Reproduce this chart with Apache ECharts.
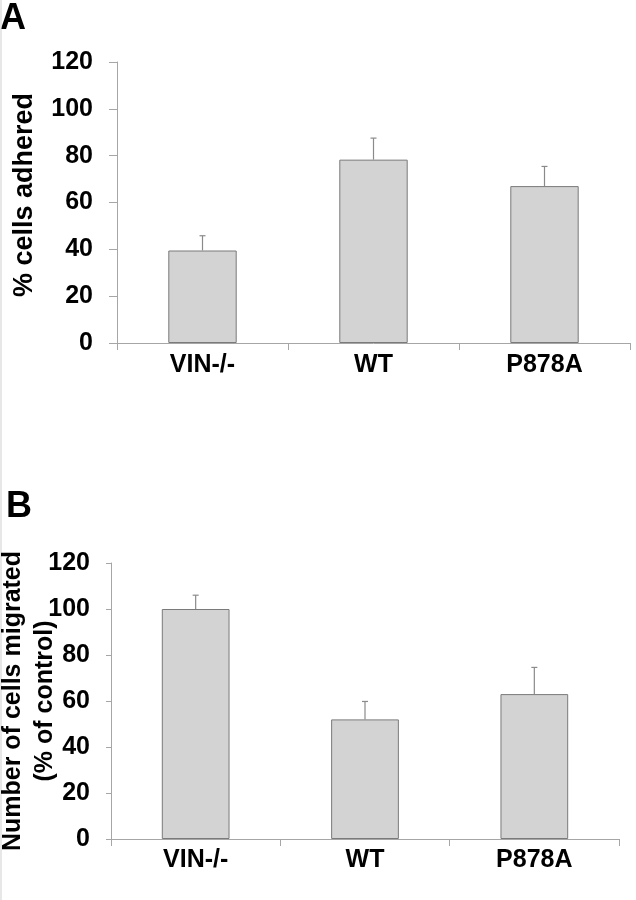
<!DOCTYPE html>
<html>
<head>
<meta charset="utf-8">
<script src="https://cdn.jsdelivr.net/npm/echarts@6/dist/echarts.min.js"></script>
<style>
  html, body { margin: 0; padding: 0; background: #fff; }
  #chart { width: 636px; height: 900px; }
</style>
</head>
<body>
<div id="chart"></div>
<script>
const categories = ['VIN-/-', 'WT', 'P878A'];
const adhesionMean = [39.5, 78.3, 67.0];
const adhesionErr = [6.3, 9.2, 8.4];
const migrationMean = [100.0, 52.0, 63.0];
const migrationErr = [6.0, 7.8, 11.6];
const yTicks = [0, 20, 40, 60, 80, 100, 120];

const FONT = '"Liberation Sans", Arial, Helvetica, sans-serif';
const axisGray = '#a6a6a6';

function errorSeries(xIdx, yIdx, means, errs) {
  return {
    type: 'custom',
    xAxisIndex: xIdx,
    yAxisIndex: yIdx,
    silent: true,
    z: 5,
    data: means.map((m, i) => [i, m, m + errs[i]]),
    renderItem: function (params, api) {
      const base = api.coord([api.value(0), api.value(1)]);
      const top = api.coord([api.value(0), api.value(2)]);
      const cap = 3;
      const st = { stroke: '#8a8a8a', lineWidth: 1.2 };
      return {
        type: 'group',
        children: [
          { type: 'line', shape: { x1: base[0], y1: base[1], x2: top[0], y2: top[1] }, style: st },
          { type: 'line', shape: { x1: top[0] - cap, y1: top[1], x2: top[0] + cap, y2: top[1] }, style: st }
        ]
      };
    }
  };
}

function yAxisCfg(gridIndex, name, nameGap, labelMargin, tickLen, nameSize, lineH, namePad) {
  return {
    type: 'value',
    gridIndex: gridIndex,
    min: 0, max: 120, interval: 20,
    name: name,
    nameLocation: 'middle',
    nameRotate: 90,
    nameGap: nameGap,
    nameMoveOverlap: false,
    nameTextStyle: { fontFamily: FONT, fontWeight: 'bold', fontSize: nameSize, color: '#000', lineHeight: lineH, padding: namePad },
    axisLine: { show: true, lineStyle: { color: axisGray, width: 1 } },
    axisTick: { show: true, length: tickLen, lineStyle: { color: axisGray } },
    splitLine: { show: false },
    axisLabel: {
      margin: labelMargin,
      fontFamily: FONT, fontWeight: 'bold', fontSize: 25, color: '#000',
      formatter: v => (yTicks.indexOf(v) >= 0 ? String(v) : '')
    }
  };
}

function xAxisCfg(gridIndex, margin) {
  return {
    type: 'category',
    gridIndex: gridIndex,
    data: categories,
    axisLine: { show: true, lineStyle: { color: axisGray, width: 1 } },
    axisTick: { show: true, length: 7, alignWithLabel: false, lineStyle: { color: axisGray } },
    axisLabel: { margin: margin, fontFamily: FONT, fontWeight: 'bold', fontSize: 25, color: '#000' }
  };
}

const barStyle = { color: '#d3d3d3', borderColor: '#7a7a7a', borderWidth: 1 };

const chart = echarts.init(document.getElementById('chart'), null, { renderer: 'canvas' });
chart.setOption({
  backgroundColor: '#fff',
  animation: false,
  grid: [
    { left: 117, right: 6, top: 62, height: 281, outerBoundsMode: 'none', containLabel: false },
    { left: 111, right: 17, top: 563, height: 276, outerBoundsMode: 'none', containLabel: false }
  ],
  xAxis: [xAxisCfg(0, 10), xAxisCfg(1, 9)],
  yAxis: [
    yAxisCfg(0, '% cells adhered', 77, 24, 8, 27, 30, [0, 0, 0, 15]),
    yAxisCfg(1, 'Number of cells migrated\n(% of control)', 50, 21, 5, 25, 32, 0)
  ],
  graphic: [
    { type: 'text', left: 0, top: 1, style: { text: 'A', font: 'bold 36px ' + FONT, fill: '#000' } },
    { type: 'text', left: 6, top: 489, style: { text: 'B', font: 'bold 36px ' + FONT, fill: '#000' } },
    { type: 'line', shape: { x1: 1, y1: 0, x2: 1, y2: 900 }, style: { stroke: '#cfcfcf', lineWidth: 1 } }
  ],
  series: [
    { type: 'bar', xAxisIndex: 0, yAxisIndex: 0, data: adhesionMean, barWidth: '40%', itemStyle: barStyle },
    errorSeries(0, 0, adhesionMean, adhesionErr),
    { type: 'bar', xAxisIndex: 1, yAxisIndex: 1, data: migrationMean, barWidth: '40%', itemStyle: barStyle },
    errorSeries(1, 1, migrationMean, migrationErr)
  ]
});
</script>
</body>
</html>
